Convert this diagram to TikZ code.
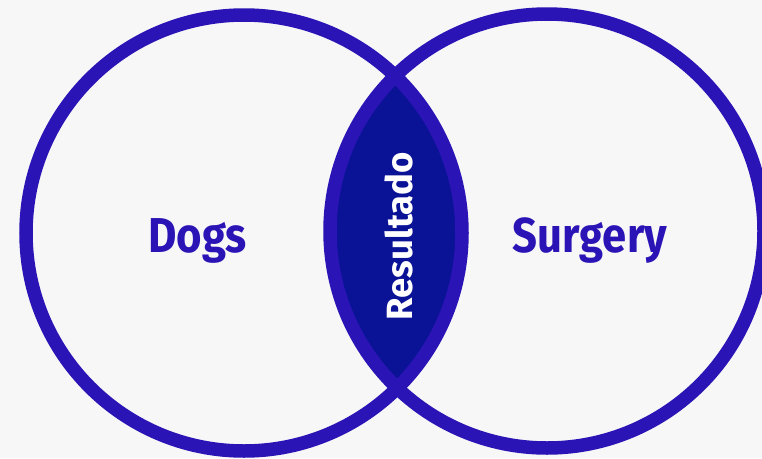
\documentclass[tikz,border=0pt]{standalone}
\usepackage{fontspec}
\setmainfont{Fira Sans}
\definecolor{vio}{HTML}{2B14B5}
\definecolor{navy}{HTML}{0A1296}
\definecolor{bg}{HTML}{F7F7F7}
\begin{document}
\begin{tikzpicture}[x=1pt,y=-1pt,
  ring/.style={draw=vio,line width=13.5pt},
  lbl/.style={text=vio,font=\fontsize{49}{49}\selectfont\bfseries,anchor=base,inner sep=0pt,xscale=0.89,transform shape},
  lens/.style={text=white,font=\fontsize{36.5}{36.5}\selectfont\bfseries,rotate=90,inner sep=0pt}]
\fill[bg] (0,0) rectangle (762,458);
\useasboundingbox (0,0) rectangle (762,458);
\begin{scope}
  \clip (244,233) circle [radius=218pt];
  \fill[navy] (547,231) circle [radius=217pt];
\end{scope}
\draw[ring] (244,233) circle [radius=218pt];
\draw[ring] (547,231) circle [radius=217pt];
\node[lbl] (dogs) at (197.5,252) {Dogs};
\node[lbl] (surgery) at (590,252) {Surgery};
\node[lens] (res) at (399,236) {Resultado};
\end{tikzpicture}
\end{document}
